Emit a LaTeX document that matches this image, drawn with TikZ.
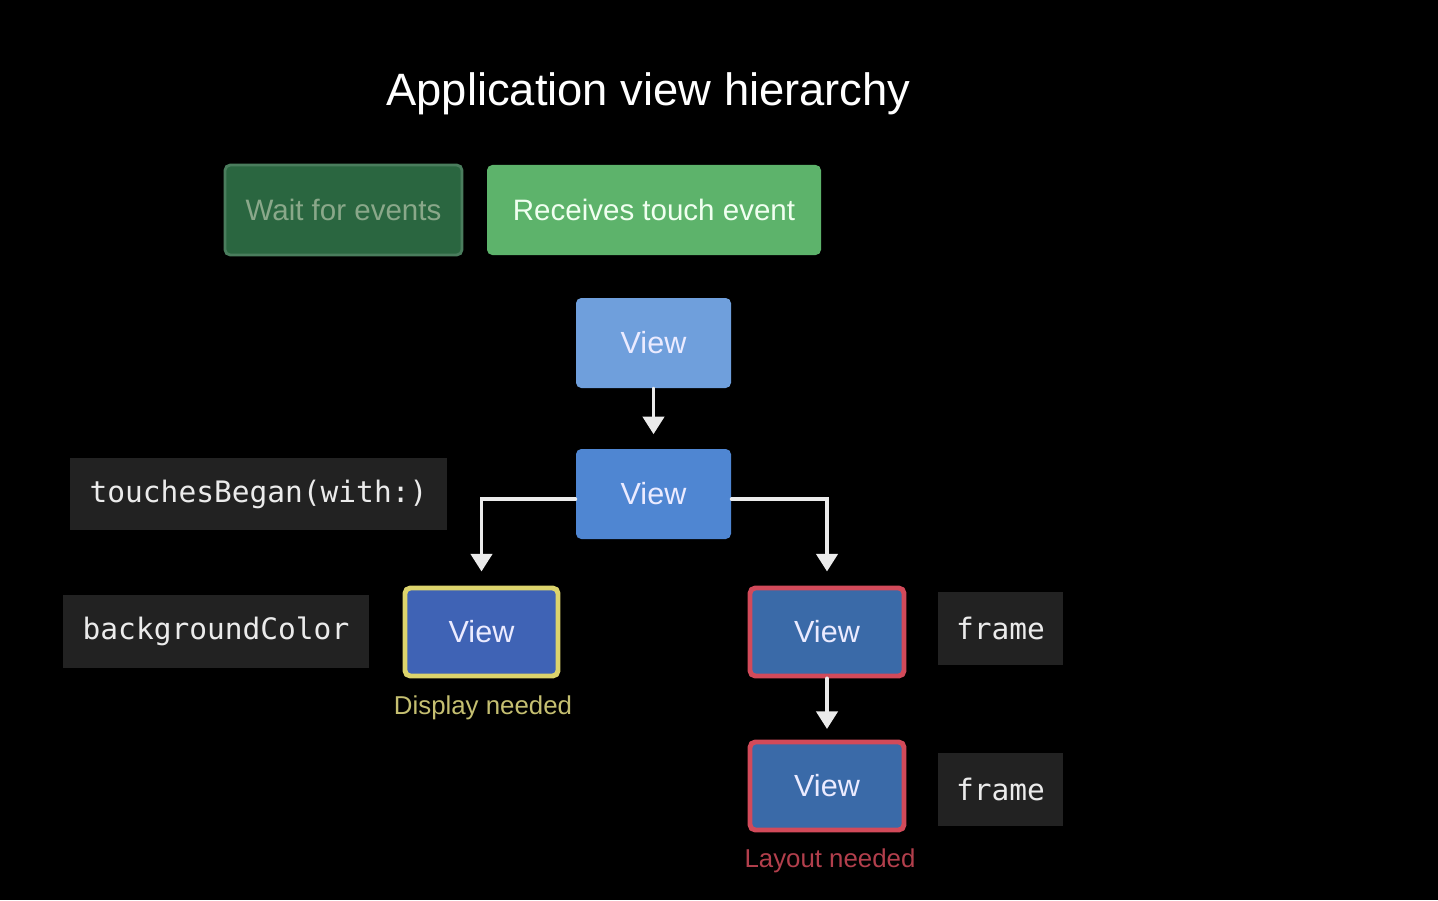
\documentclass[tikz,border=0pt]{standalone}
\usepackage{fontspec}
\setmainfont{Liberation Sans}
\newfontfamily\codefont{DejaVu Sans Mono}
\usetikzlibrary{arrows.meta}

\definecolor{waitgreen}{HTML}{2A6640}
\definecolor{recvgreen}{HTML}{5DB36B}
\definecolor{viewlight}{HTML}{6F9FDC}
\definecolor{viewmid}{HTML}{4F86D2}
\definecolor{viewdeep}{HTML}{3F63B5}
\definecolor{viewsteel}{HTML}{3A6AA8}
\definecolor{needyellow}{HTML}{DCD46C}
\definecolor{needred}{HTML}{D24A5A}
\definecolor{codegray}{HTML}{222222}

\begin{document}
\begin{tikzpicture}[line cap=round,
    statebox/.style={rounded corners=1.5pt, minimum height=0.9cm, inner sep=0pt,
      font=\fontsize{8.4}{10}\selectfont},
    viewbox/.style={rounded corners=1.5pt, minimum width=1.55cm, minimum height=0.9cm,
      inner sep=0pt, text=blue!8, font=\fontsize{8.7}{10}\selectfont},
    codebox/.style={fill=codegray, minimum height=0.73cm, inner sep=0pt, text=white!92!black,
      font=\codefont\fontsize{8.4}{10}\selectfont},
    flow/.style={-{Triangle[width=6pt,length=5pt]}, white!92!black, line width=1.1pt}]
  % canvas
  \fill[black] (0,0) rectangle (14.38,9);
  \useasboundingbox (0,0) rectangle (14.38,9);
  % title
  \node[white, font=\fontsize{12.9}{15}\selectfont] (title) at (6.485,8.06) {Application view hierarchy};
  % event states
  \node[statebox, fill=waitgreen, draw=waitgreen!85!white, line width=0.8pt, text=green!15!gray!80!white,
    minimum width=2.37cm] (wait) at (3.435,6.90) {Wait for events};
  \node[statebox, fill=recvgreen, text=green!6, minimum width=3.34cm] (recv) at (6.54,6.90) {Receives touch event};
  % view tree
  \node[viewbox, fill=viewlight] (v1) at (6.535,5.57) {View};
  \node[viewbox, fill=viewmid] (v2) at (6.535,4.06) {View};
  \node[viewbox, fill=viewdeep, draw=needyellow, line width=1.4pt, minimum width=1.53cm,
    minimum height=0.88cm] (v3) at (4.815,2.68) {View};
  \node[viewbox, fill=viewsteel, draw=needred, line width=1.4pt, minimum width=1.54cm,
    minimum height=0.88cm] (v4) at (8.27,2.68) {View};
  \node[viewbox, fill=viewsteel, draw=needred, line width=1.4pt, minimum width=1.54cm,
    minimum height=0.88cm] (v5) at (8.27,1.14) {View};
  % properties and methods
  \node[codebox, minimum width=3.77cm, minimum height=0.72cm] (touches) at (2.585,4.06) {touchesBegan(with:)};
  \node[codebox, minimum width=3.06cm] (bgcolor) at (2.16,2.685) {backgroundColor};
  \node[codebox, minimum width=1.25cm] (frame1) at (10.005,2.715) {frame};
  \node[codebox, minimum width=1.25cm] (frame2) at (10.005,1.11) {frame};
  % status labels
  \node[text=needyellow!75!gray, font=\fontsize{7.35}{9}\selectfont] (display) at (4.83,1.92) {Display needed};
  \node[text=needred!85!black, font=\fontsize{7.35}{9}\selectfont] (layout) at (8.30,0.39) {Layout needed};
  % connectors
  \draw[flow, shorten >=4pt] (v1.south) -- (v2.north);
  \draw[flow, shorten >=4pt] ([yshift=-1.5pt]v2.west) -| (v3.north);
  \draw[flow, shorten >=4pt] ([yshift=-1.5pt]v2.east) -| (v4.north);
  \draw[flow, shorten >=3pt] (v4.south) -- (v5.north);
\end{tikzpicture}
\end{document}
